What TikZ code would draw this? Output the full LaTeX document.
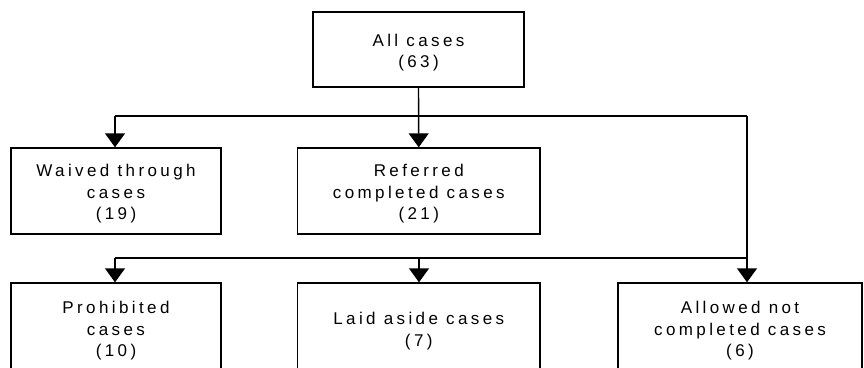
\documentclass[tikz,border=0pt]{standalone}
\usepackage{fontspec}
\setmainfont{Liberation Sans}[LetterSpace=20]
\usetikzlibrary{arrows.meta}
\begin{document}
\begin{tikzpicture}[x=1pt,y=1pt,
  casebox/.style={draw=black, line width=1.4pt, fill=white, inner sep=0pt},
  boxtext/.style={inner sep=0pt, align=center, yshift=-3pt,
    font=\fontsize{17}{21.5}\selectfont},
  link/.style={line width=1.4pt},
  feed/.style={link, -{Triangle[width=20pt,length=14pt]}}]
  % page frame; the bottom row runs past the lower edge
  \path[use as bounding box, clip] (0,0) rectangle (864,-367);
  \fill[white] (0,0) rectangle (864,-367);

  % boxes, each with its caption set at the centre
  \node[casebox, minimum width=211pt, minimum height=75pt,
    label={[boxtext]center:{All cases\\(63)}}] (all) at (418.5,-49.5) {};
  \node[casebox, minimum width=210pt, minimum height=86pt,
    label={[boxtext]center:{Waived through\\cases\\(19)}}] (waived) at (116,-191) {};
  \node[casebox, minimum width=242.5pt, minimum height=86pt,
    label={[boxtext]center:{Referred\\completed cases\\(21)}}] (ref) at (418.75,-191) {};
  \node[casebox, minimum width=210pt, minimum height=90pt,
    label={[boxtext]center:{Prohibited\\cases\\(10)}}] (pro) at (116,-328) {};
  \node[casebox, minimum width=242.5pt, minimum height=90pt,
    label={[boxtext]center:{Laid aside cases\\(7)}}] (laid) at (418.75,-328) {};
  \node[casebox, minimum width=244pt, minimum height=90pt,
    label={[boxtext]center:{Allowed not\\completed cases\\(6)}}] (allow) at (740,-328) {};

  % junction points of the connector lines
  \coordinate (tl) at (115,-116);
  \coordinate (tr) at (747,-116);
  \coordinate (bl) at (115,-258);
  \coordinate (bm) at (419,-258);
  \coordinate (br) at (747,-258);

  % connectors
  \draw[feed] (all.south) -- (ref.north);
  \draw[link] (tl) -- (tr);
  \draw[feed] (tl) -- (tl |- waived.north);
  \draw[feed] (tr) -- (tr |- allow.north);
  \draw[link] (bl) -- (br);
  \draw[feed] (bl) -- (bl |- pro.north);
  \draw[feed] (bm) -- (bm |- laid.north);
\end{tikzpicture}
\end{document}
